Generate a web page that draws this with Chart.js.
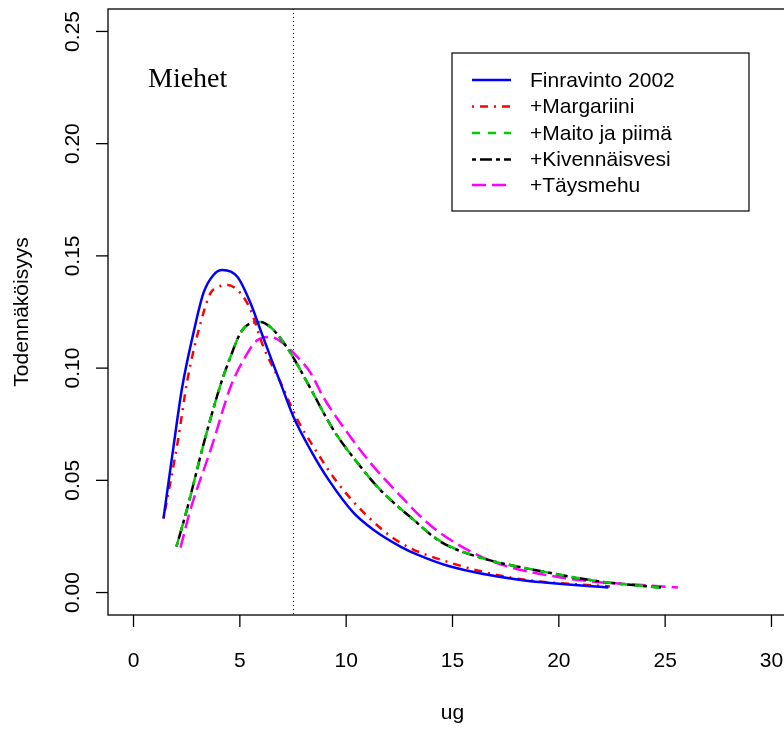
<!DOCTYPE html>
<html>
<head>
<meta charset="utf-8">
<script src="https://cdn.jsdelivr.net/npm/chart.js@4/dist/chart.umd.min.js"></script>
<style>
html,body{margin:0;padding:0;background:#fff;overflow:hidden;}
#wrap{width:800px;height:730px;}
</style>
</head>
<body>
<div id="wrap"><canvas id="c" width="800" height="730"></canvas></div>
<script>
// ---- data ----
const seriesNames = ["Finravinto 2002", "+Margariini", "+Maito ja piimä", "+Kivennäisvesi", "+Täysmehu"];

const finX = [1.41, 1.88, 2.28, 2.82, 3.29, 3.76, 4.18, 4.89, 5.5, 5.97, 6.44, 6.91, 7.52, 8.32, 9.17, 10.34, 11.28, 12.55, 13.35, 14.9, 18.05, 22.33];
const finY = [0.033, 0.065, 0.091, 0.1157, 0.1335, 0.1415, 0.1437, 0.1406, 0.129, 0.117, 0.105, 0.0934, 0.0783, 0.0636, 0.0503, 0.0356, 0.028, 0.0205, 0.0169, 0.0116, 0.0058, 0.0022];

const marX = [1.41, 2.07, 2.54, 3.15, 3.62, 3.95, 4.42, 5.03, 5.5, 6.11, 6.91, 7.71, 8.46, 9.59, 11.0, 12.55, 14.9, 18.05, 22.4];
const marY = [0.033, 0.0667, 0.095, 0.120, 0.1334, 0.136, 0.137, 0.1334, 0.126, 0.1094, 0.0937, 0.077, 0.065, 0.049, 0.034, 0.0222, 0.0133, 0.0062, 0.0027];

const maiX = [2.02, 2.54, 3.29, 4.09, 4.56, 5.03, 5.5, 5.97, 6.58, 7.38, 8.18, 9.4, 10.53, 11.6, 13.16, 14.43, 16.3, 18.8, 21.96, 24.8];
const maiY = [0.0205, 0.038, 0.066, 0.0925, 0.105, 0.1157, 0.120, 0.1206, 0.117, 0.1068, 0.0934, 0.0725, 0.0578, 0.0458, 0.0325, 0.0229, 0.0156, 0.0102, 0.0049, 0.0022];

const kivX = [2.02, 2.54, 3.29, 4.09, 4.56, 5.03, 5.5, 5.97, 6.58, 7.38, 8.18, 9.4, 10.53, 11.6, 13.16, 14.43, 16.3, 18.8, 21.96, 24.8];
const kivY = [0.0205, 0.038, 0.066, 0.0925, 0.105, 0.1157, 0.120, 0.1206, 0.117, 0.1068, 0.0934, 0.0725, 0.0578, 0.0458, 0.0325, 0.0227, 0.0156, 0.0102, 0.0049, 0.0022];

const tayX = [2.21, 2.68, 3.71, 4.56, 5.17, 5.83, 6.44, 7.05, 7.7, 8.32, 8.93, 10.06, 11.14, 12.41, 13.82, 14.9, 16.9, 20.1, 25.6];
const tayY = [0.020, 0.037, 0.066, 0.0916, 0.1036, 0.1125, 0.1139, 0.111, 0.105, 0.098, 0.087, 0.0712, 0.0578, 0.0445, 0.0311, 0.0235, 0.0138, 0.0067, 0.0022];

const xTicks = [0, 5, 10, 15, 20, 25, 30];
const yTicks = [0.00, 0.05, 0.10, 0.15, 0.20, 0.25];
const yTickLabels = ["0.00", "0.05", "0.10", "0.15", "0.20", "0.25"];
const refLineX = 7.5;
const panelLabel = "Miehet";
const xTitle = "ug";
const yTitle = "Todennäköisyys";

function pts(xs, ys){ return xs.map((x,i)=>({x:x, y:ys[i]})); }

const sans = "'Liberation Sans', Arial, Helvetica, sans-serif";
const serif = "'Liberation Serif', 'Times New Roman', serif";

const decor = {
  id: 'decor',
  beforeDatasetsDraw(chart){
    const {ctx, chartArea:a, scales:{x}} = chart;
    ctx.save();
    ctx.strokeStyle = '#000';
    ctx.lineWidth = 1;
    ctx.setLineDash([1, 3]);
    const rx = Math.round(x.getPixelForValue(refLineX)) + 0.5;
    ctx.beginPath(); ctx.moveTo(rx, a.top); ctx.lineTo(rx, a.bottom); ctx.stroke();
    ctx.restore();
  },
  afterDatasetsDraw(chart){
    const {ctx, chartArea:a, scales:{x, y}} = chart;
    ctx.save();
    ctx.setLineDash([]);
    ctx.strokeStyle = '#000';
    ctx.lineWidth = 1.3;
    ctx.strokeRect(a.left, a.top, a.right - a.left, a.bottom - a.top);
    ctx.fillStyle = '#000';
    ctx.font = '21px ' + sans;
    ctx.textAlign = 'center';
    ctx.textBaseline = 'middle';
    xTicks.forEach(v => {
      const px = x.getPixelForValue(v);
      ctx.beginPath(); ctx.moveTo(px, a.bottom); ctx.lineTo(px, a.bottom + 12); ctx.stroke();
      ctx.fillText(String(v), px, 661);
    });
    yTicks.forEach((v, i) => {
      const py = y.getPixelForValue(v);
      ctx.beginPath(); ctx.moveTo(a.left, py); ctx.lineTo(a.left - 12, py); ctx.stroke();
      ctx.save();
      ctx.translate(73, py);
      ctx.rotate(-Math.PI/2);
      ctx.fillText(yTickLabels[i], 0, 0);
      ctx.restore();
    });
    ctx.fillText(xTitle, x.getPixelForValue(15), 713);
    ctx.save();
    ctx.translate(22, 312);
    ctx.rotate(-Math.PI/2);
    ctx.fillText(yTitle, 0, 0);
    ctx.restore();
    ctx.font = '28px ' + serif;
    ctx.textAlign = 'left';
    ctx.textBaseline = 'alphabetic';
    ctx.fillText(panelLabel, 148, 87);
    const lx = 452, ly = 53, lw = 297, lh = 158;
    ctx.fillStyle = '#fff';
    ctx.fillRect(lx, ly, lw, lh);
    ctx.lineWidth = 1.2;
    ctx.strokeStyle = '#000';
    ctx.strokeRect(lx, ly, lw, lh);
    const rows = [80, 106.5, 133, 159.5, 185];
    chart.data.datasets.forEach((ds, i) => {
      const ry = rows[i];
      ctx.strokeStyle = ds.borderColor;
      ctx.lineWidth = ds.borderWidth;
      ctx.setLineDash(ds.borderDash || []);
      ctx.beginPath(); ctx.moveTo(472, ry); ctx.lineTo(511, ry); ctx.stroke();
      ctx.setLineDash([]);
      ctx.fillStyle = '#000';
      ctx.font = '21px ' + sans;
      ctx.textBaseline = 'middle';
      ctx.fillText(ds.label, 530, ry + 1);
    });
    ctx.restore();
  }
};

const common = { pointRadius: 0, borderWidth: 2.5, fill: false, cubicInterpolationMode: 'monotone', borderCapStyle: 'butt' };

new Chart(document.getElementById('c'), {
  type: 'line',
  data: {
    datasets: [
      Object.assign({ label: seriesNames[0], data: pts(finX, finY), borderColor: '#0000ff', borderDash: [] }, common),
      Object.assign({ label: seriesNames[1], data: pts(marX, marY), borderColor: '#ff0000', borderDash: [2, 6, 8, 6] }, common),
      Object.assign({ label: seriesNames[2], data: pts(maiX, maiY), borderColor: '#00cd00', borderDash: [8, 8] }, common),
      Object.assign({ label: seriesNames[3], data: pts(kivX, kivY), borderColor: '#000000', borderDash: [4, 4, 12, 4] }, common),
      Object.assign({ label: seriesNames[4], data: pts(tayX, tayY), borderColor: '#ff00ff', borderDash: [14, 6] }, common)
    ]
  },
  options: {
    responsive: false,
    animation: false,
    events: [],
    layout: { padding: { left: 108, top: 9, right: 3, bottom: 115 } },
    plugins: { legend: { display: false }, tooltip: { enabled: false } },
    scales: {
      x: { type: 'linear', min: -1.2, max: 31.2, display: false },
      y: { type: 'linear', min: -0.01, max: 0.26, display: false }
    }
  },
  plugins: [decor]
});
</script>
</body>
</html>
